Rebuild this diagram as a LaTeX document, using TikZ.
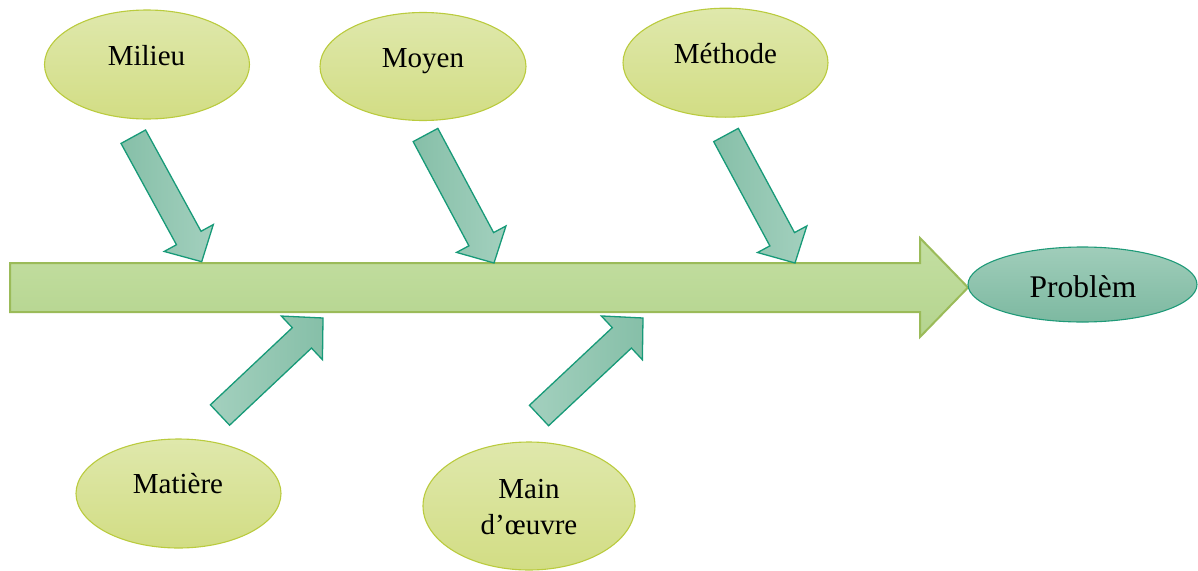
\documentclass[tikz,border=0pt]{standalone}
\usepackage{fontspec}
\setmainfont{Liberation Serif}
\usetikzlibrary{calc,shapes.geometric}
\definecolor{ellTop}{HTML}{DFE8AC}
\definecolor{ellBot}{HTML}{D2DD84}
\definecolor{ellLine}{HTML}{BACB3E}
\definecolor{probTop}{HTML}{A0CDBA}
\definecolor{probBot}{HTML}{7DB9A1}
\definecolor{probLine}{HTML}{1E9A78}
\definecolor{arrDark}{HTML}{86BFA8}
\definecolor{arrLight}{HTML}{A3D0BE}
\definecolor{arrLine}{HTML}{179A78}
\definecolor{spTop}{HTML}{C4DFA2}
\definecolor{spBot}{HTML}{B4D48E}
\definecolor{spLine}{HTML}{9BBB59}
\tikzset{
  cause/.style={ellipse, draw=ellLine, line width=1.1pt, top color=ellTop, bottom color=ellBot, inner sep=0pt},
  problem/.style={ellipse, draw=probLine, line width=1.1pt, top color=probTop, bottom color=probBot, inner sep=0pt},
  lbl/.style={anchor=base, inner sep=0pt, font=\fontsize{29}{34}\selectfont},
  smallarrow/.style={draw=arrLine, line width=1.3pt, line join=miter},
  spinearrow/.style={draw=spLine, line width=2pt, line join=miter, top color=spTop, bottom color=spBot},
}
% #1 style, #2 tail, #3 tip, #4 half shaft, #5 half head, #6 head length
\newcommand\blockarrow[6]{%
  \path let \p1=($(#3)-(#2)$), \n1={atan2(\y1,\x1)}, \n2={veclen(\x1,\y1)} in
    \pgfextra{\xdef\barang{\n1}\xdef\barlen{\n2}};
  \begin{scope}[shift={(#2)}, rotate=\barang]
    \path[#1] (0,-#4) -- ({\barlen-#6},-#4) -- ({\barlen-#6},-#5) -- (\barlen,0)
      -- ({\barlen-#6},#5) -- ({\barlen-#6},#4) -- (0,#4) -- cycle;
  \end{scope}}
\begin{document}
\begin{tikzpicture}[x=1pt,y=-1pt]
\useasboundingbox (0,0) rectangle (1198,570);

% spine
\coordinate (spineT) at (10,287.5);
\coordinate (spineH) at (968,287.5);
\blockarrow{spinearrow}{spineT}{spineH}{24.5}{49.5}{48}

% cause ellipses
\node[cause, minimum width=205pt, minimum height=109pt] (milieu) at (147,64.5) {};
\node[cause, minimum width=206pt, minimum height=108pt] (moyen) at (423,66.5) {};
\node[cause, minimum width=205pt, minimum height=109pt] (methode) at (725.5,62.7) {};
\node[cause, minimum width=205pt, minimum height=109pt] (matiere) at (178.5,493.5) {};
\node[cause, minimum width=212pt, minimum height=128pt] (main) at (529,506) {};
\node[problem, minimum width=229pt, minimum height=75pt] (probleme) at (1082.5,284.5) {};

% labels
\node[lbl] (tMilieu) at (146.5,65) {Milieu};
\node[lbl] (tMoyen) at (423,67) {Moyen};
\node[lbl] (tMethode) at (725.5,63) {Méthode};
\node[lbl] (tMatiere) at (178,493) {Matière};
\node[lbl] (tMain) at (529,498) {Main};
\node[lbl] (tOeuvre) at (529,534) {d’œuvre};
\node[lbl, font=\fontsize{31.5}{36}\selectfont] (tProb) at (1083,297) {Problèm};

% small arrows
\coordinate (aMilieuT) at (133.3,136.7);  \coordinate (aMilieuH) at (201.7,261.7);
\coordinate (aMoyenT) at (425.5,135);     \coordinate (aMoyenH) at (494,263);
\coordinate (aMethodeT) at (726,135);     \coordinate (aMethodeH) at (795,263);
\coordinate (aMatiereT) at (220,415);     \coordinate (aMatiereH) at (323,318);
\coordinate (aMainT) at (539,415.5);      \coordinate (aMainH) at (643,318);

\blockarrow{smallarrow, left color=arrDark, right color=arrLight}{aMilieuT}{aMilieuH}{14}{28}{27}
\blockarrow{smallarrow, left color=arrDark, right color=arrLight}{aMoyenT}{aMoyenH}{14}{28}{27}
\blockarrow{smallarrow, left color=arrDark, right color=arrLight}{aMethodeT}{aMethodeH}{14}{28}{27}
\blockarrow{smallarrow, left color=arrLight, right color=arrDark}{aMatiereT}{aMatiereH}{14}{30}{29}
\blockarrow{smallarrow, left color=arrLight, right color=arrDark}{aMainT}{aMainH}{14}{30}{29}
\end{tikzpicture}
\end{document}
